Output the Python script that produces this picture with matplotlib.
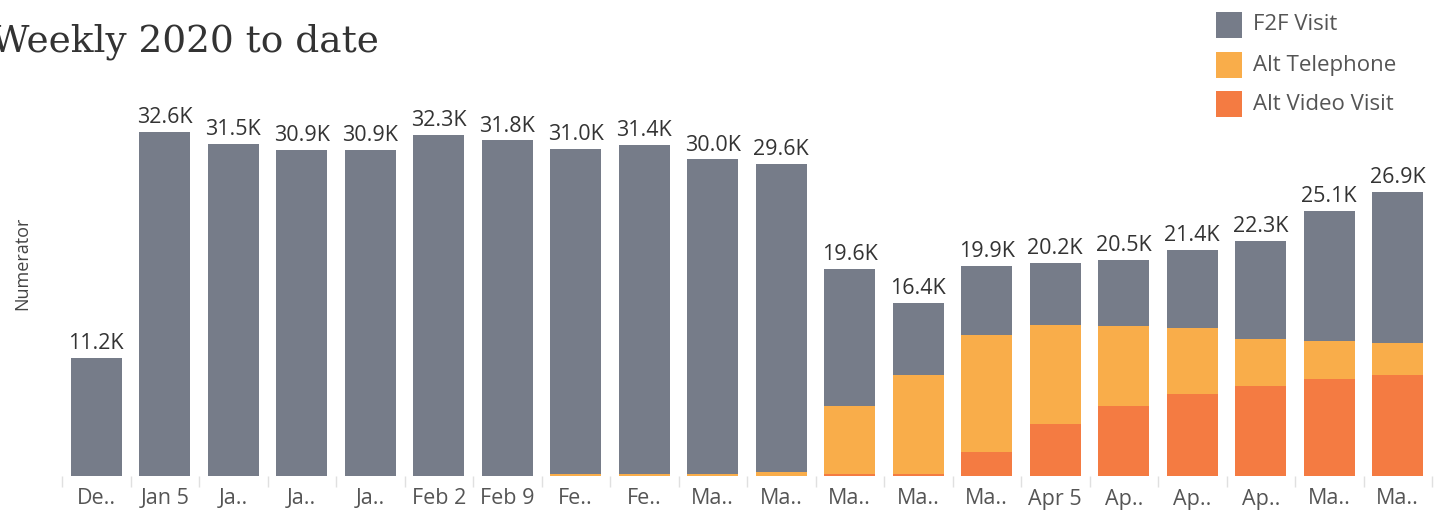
import matplotlib
matplotlib.use("Agg")
import matplotlib.pyplot as plt
import numpy as np
from matplotlib.patches import Rectangle

weeks = ["De..", "Jan 5", "Ja..", "Ja..", "Ja..", "Feb 2", "Feb 9", "Fe..", "Fe..", "Ma..",
         "Ma..", "Ma..", "Ma..", "Ma..", "Apr 5", "Ap..", "Ap..", "Ap..", "Ma..", "Ma.."]
totals = [11.2, 32.6, 31.5, 30.9, 30.9, 32.3, 31.8, 31.0, 31.4, 30.0,
          29.6, 19.6, 16.4, 19.9, 20.2, 20.5, 21.4, 22.3, 25.1, 26.9]
alt_video = [0, 0, 0, 0, 0, 0, 0, 0, 0, 0,
             0, 0.15, 0.15, 2.25, 4.9, 6.6, 7.8, 8.5, 9.2, 9.6]
alt_phone = [0, 0, 0, 0, 0, 0, 0, 0.15, 0.15, 0.15,
             0.35, 6.45, 9.45, 11.15, 9.4, 7.6, 6.2, 4.5, 3.6, 3.0]
f2f = [t - v - p for t, v, p in zip(totals, alt_video, alt_phone)]

series_names = ["F2F Visit", "Alt Telephone", "Alt Video Visit"]
c_f2f, c_phone, c_video = "#767c89", "#f9ad4a", "#f47b42"

SANS = "Open Sans"
W, H = 1434, 515
fig = plt.figure(figsize=(W / 100, H / 100), dpi=100)
ax = fig.add_axes([62 / W, (H - 476) / H, (1432 - 62) / W, (476 - 96) / H])

x = np.arange(len(weeks))
bw = 0.75
ax.bar(x, alt_video, bw, color=c_video, linewidth=0)
ax.bar(x, alt_phone, bw, bottom=alt_video, color=c_phone, linewidth=0)
ax.bar(x, f2f, bw, bottom=np.array(alt_video) + np.array(alt_phone), color=c_f2f, linewidth=0)

for xi, t in zip(x, totals):
    ax.text(xi, t + 0.35, f"{t:.1f}K", ha="center", va="bottom", fontsize=15.5,
            color="#333333", family=SANS)

ax.set_xlim(-0.5, len(weeks) - 0.5)
ax.set_ylim(0, 36)
ax.set_xticks(x)
ax.set_xticklabels(weeks, fontsize=15.5, color="#555555", family=SANS)
ax.tick_params(axis="x", which="major", length=0, pad=9)
ax.set_xticks(np.arange(-0.5, len(weeks), 1.0), minor=True)
ax.tick_params(axis="x", which="minor", length=8, color="#e0e0e0", width=1)
ax.set_yticks([])
for s in ax.spines.values():
    s.set_visible(False)

fig.text(22 / W, (H - 263) / H, "Numerator", rotation=90, fontsize=13, color="#444444",
         family=SANS, ha="center", va="center")

fig.text(-0.006, (H - 42) / H, "Weekly 2020 to date", fontsize=27, family="DejaVu Serif",
         color="#333333", ha="left", va="center")

# legend
colors = [c_f2f, c_phone, c_video]
rows = [25, 65, 104]
for name, col, yc in zip(series_names, colors, rows):
    fig.patches.append(Rectangle((1216 / W, (H - yc - 13) / H), 26 / W, 26 / H,
                                 transform=fig.transFigure, facecolor=col, edgecolor="none"))
    fig.text(1253 / W, (H - yc) / H, name, fontsize=16, family=SANS, color="#555555",
             ha="left", va="center")

fig.savefig("out.png", dpi=100)
